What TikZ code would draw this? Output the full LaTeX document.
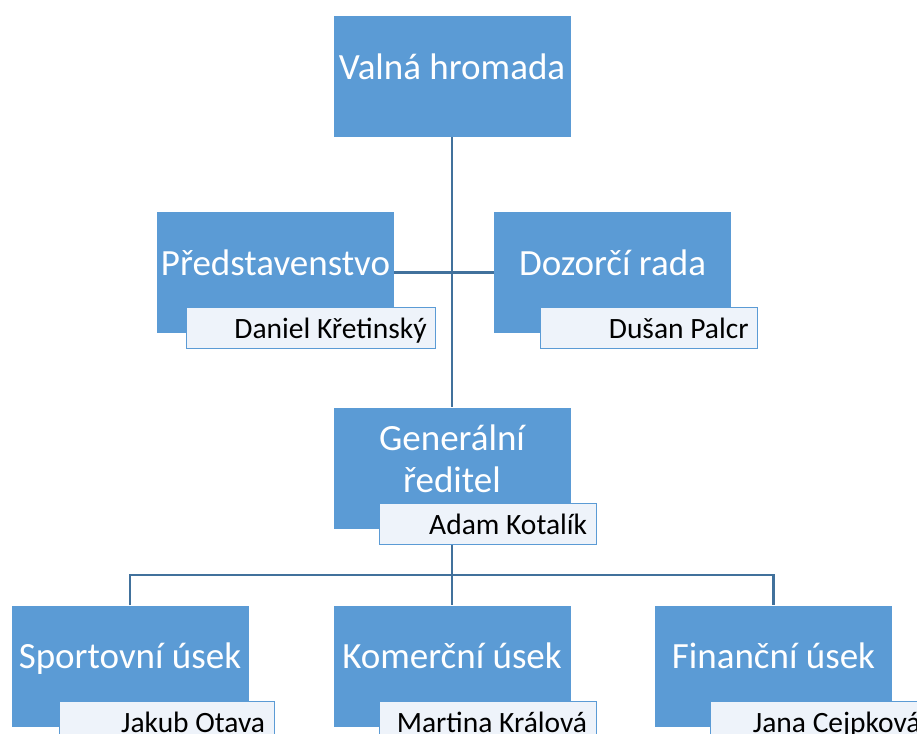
\documentclass[tikz,border=0pt]{standalone}
\usepackage{fontspec}
\setmainfont{Carlito}
\usepackage{xcolor}
\usetikzlibrary{backgrounds}

\definecolor{unitblue}{HTML}{5B9BD5}
\definecolor{namefill}{HTML}{EEF3FA}
\definecolor{linkblue}{HTML}{41719C}

\begin{document}
\begin{tikzpicture}[x=1pt,y=-1pt,
  unit/.style={fill=unitblue, text=white, inner sep=0pt, minimum width=237pt, minimum height=121pt,
    align=center, font=\fontsize{37}{42}\selectfont, text height=25pt, text depth=19.5pt},
  person/.style={fill=namefill, draw=unitblue, line width=1.2pt, anchor=north east, inner xsep=9pt,
    inner ysep=0pt, minimum height=41pt, text width=199pt, align=flush right,
    font=\fontsize{29.5}{31}\selectfont, text height=21pt, text depth=0pt},
  link/.style={draw=linkblue, line width=2.8pt}]
\useasboundingbox (0,0) rectangle (917,733);
\clip (0,0) rectangle (917,733);
% units
\node[unit] (vh) at (452,76.5) {Valná hromada};
\node[unit] (pr) at (275.5,272.5) {Představenstvo};
\node[unit] (dr) at (612.5,272.5) {Dozorčí rada};
\node[unit, text height=62pt, text depth=14pt] (gr) at (452,468) {Generální\\ředitel};
\node[unit] (su) at (130,666) {Sportovní úsek};
\node[unit] (ku) at (452,666) {Komerční úsek};
\node[unit] (fu) at (773.5,666) {Finanční úsek};
% names
\node[person, text width=231pt] (pr-n) at ([xshift=42pt,yshift=26pt]pr.south east) {Daniel Křetinský};
\node[person] (dr-n) at ([xshift=27pt,yshift=26pt]dr.south east) {Dušan Palcr};
\node[person] (gr-n) at ([xshift=26pt,yshift=26pt]gr.south east) {Adam Kotalík};
\node[person, text width=197pt] (su-n) at ([xshift=26pt,yshift=26pt]su.south east) {Jakub Otava};
\node[person] (ku-n) at ([xshift=26pt,yshift=26pt]ku.south east) {Martina Králová};
\node[person, text width=201pt] (fu-n) at ([xshift=38pt,yshift=26pt]fu.south east) {Jana Cejpková};
% links
\begin{scope}[on background layer]
\coordinate (bar) at (452,575);
\draw[link] (vh) -- (gr);
\draw[link] (pr) -- (dr);
\draw[link] (gr) -- (ku);
\draw[link] (su) |- (bar) -| (fu);
\end{scope}
\end{tikzpicture}
\end{document}
